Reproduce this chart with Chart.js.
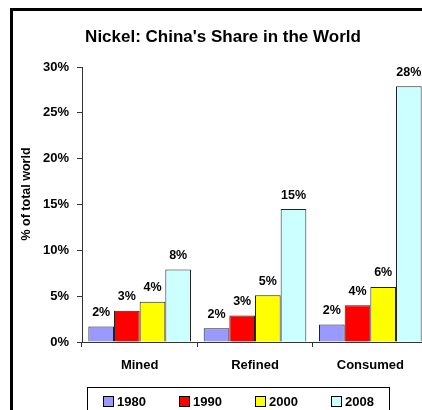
<!DOCTYPE html>
<html>
<head>
<meta charset="utf-8">
<script src="https://cdn.jsdelivr.net/npm/chart.js@4"></script>
<style>
html, body { margin: 0; padding: 0; background: #fff; overflow: hidden; }
</style>
</head>
<body>
<canvas id="chart-niquel" width="440" height="410"></canvas>
<script>
// ==================== DATOS ====================
const categorias = ['Mined', 'Refined', 'Consumed'];
const anios = ['1980', '1990', '2000', '2008'];
const valores1980 = [1.7, 1.5, 1.9];
const valores1990 = [3.4, 2.9, 4.0];
const valores2000 = [4.4, 5.1, 6.0];
const valores2008 = [7.9, 14.5, 27.9];
const ticksY = [0, 5, 10, 15, 20, 25, 30];
const colores = ['#9999FF', '#FF0000', '#FFFF00', '#CCFFFF'];
const titulo = "Nickel: China's Share in the World";
const tituloY = '% of total world';

const FUENTE = 'Arial, "Liberation Sans", sans-serif';
const series = [valores1980, valores1990, valores2000, valores2008];

// ==================== PLUGIN: marco, títulos, etiquetas y leyenda ====================
const decorado = {
    id: 'decorado',
    beforeDraw(chart) {
        const ctx = chart.ctx;
        ctx.save();
        ctx.strokeStyle = '#000';
        ctx.lineWidth = 3;
        ctx.strokeRect(11.5, 9.5, 460, 430);
        ctx.restore();
    },
    afterDraw(chart) {
        const ctx = chart.ctx;
        ctx.save();
        ctx.fillStyle = '#000';

        // título
        ctx.font = `bold 17px ${FUENTE}`;
        ctx.textAlign = 'center';
        ctx.textBaseline = 'middle';
        ctx.fillText(titulo, 223, 37);

        // título eje Y
        ctx.save();
        ctx.translate(27, 194);
        ctx.rotate(-Math.PI / 2);
        ctx.font = `bold 12.5px ${FUENTE}`;
        ctx.fillText(tituloY, 0, 0);
        ctx.restore();

        // etiquetas de datos
        ctx.font = `bold 12.5px ${FUENTE}`;
        chart.data.datasets.forEach((ds, i) => {
            chart.getDatasetMeta(i).data.forEach((bar, j) => {
                ctx.fillText(Math.round(ds.data[j]) + '%', bar.x, bar.y - 14);
            });
        });

        // leyenda con recuadro
        ctx.fillStyle = '#fff';
        ctx.fillRect(87.5, 387.5, 302, 40);
        ctx.strokeStyle = '#000';
        ctx.lineWidth = 1;
        ctx.strokeRect(87.5, 387.5, 302, 40);
        ctx.font = `bold 13px ${FUENTE}`;
        ctx.textAlign = 'left';
        chart.data.datasets.forEach((ds, i) => {
            const x = 103 + i * 76;
            ctx.fillStyle = ds.backgroundColor;
            ctx.fillRect(x + 0.5, 396.5, 10, 10);
            ctx.strokeStyle = '#000';
            ctx.strokeRect(x + 0.5, 396.5, 10, 10);
            ctx.fillStyle = '#000';
            ctx.fillText(ds.label, x + 14, 402);
        });
        ctx.restore();
    }
};

// ==================== GRÁFICO ====================
const ctx = document.getElementById('chart-niquel').getContext('2d');
new Chart(ctx, {
    type: 'bar',
    data: {
        labels: categorias,
        datasets: anios.map((a, i) => ({
            label: a,
            data: series[i],
            backgroundColor: colores[i],
            borderColor: '#222',
            borderWidth: 1
        }))
    },
    options: {
        responsive: false,
        animation: false,
        devicePixelRatio: 1,
        categoryPercentage: 0.89,
        barPercentage: 1.0,
        layout: { padding: { top: 67, right: 12, left: 0, bottom: 0 } },
        plugins: {
            legend: { display: false },
            title: { display: false },
            tooltip: { enabled: false }
        },
        scales: {
            x: {
                afterFit: s => { s.height = 68; },
                grid: { drawOnChartArea: false, tickLength: 5, color: '#333' },
                border: { color: '#333', width: 1 },
                ticks: { color: '#000', padding: 11, font: { family: FUENTE, size: 13, weight: 'bold' } }
            },
            y: {
                min: 0,
                max: 30,
                afterFit: s => { s.width = 82; },
                afterBuildTicks: s => { s.ticks = ticksY.map(v => ({ value: v })); },
                grid: { drawOnChartArea: false, tickLength: 5, color: '#333' },
                border: { color: '#333', width: 1 },
                ticks: {
                    color: '#000',
                    padding: 8,
                    font: { family: FUENTE, size: 13, weight: 'bold' },
                    callback: v => v + '%'
                }
            }
        }
    },
    plugins: [decorado]
});
</script>
</body>
</html>
